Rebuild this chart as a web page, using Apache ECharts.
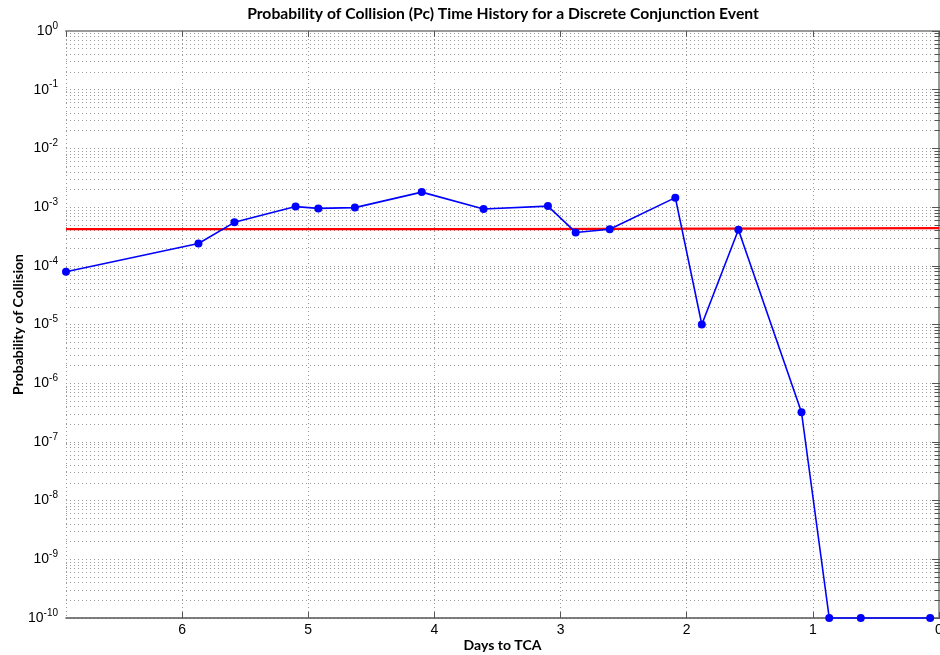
<!DOCTYPE html>
<html>
<head>
<meta charset="utf-8">
<script src="https://cdn.jsdelivr.net/npm/echarts@6/dist/echarts.min.js"></script>
<style>html,body{margin:0;padding:0;background:#fff;}#c{width:940px;height:655px;}</style>
</head>
<body>
<div id="c"></div>
<script>
// Days to TCA and probability of collision (blue series)
var daysToTCA = [6.92, 5.87, 5.585, 5.10, 4.92, 4.63, 4.10, 3.61, 3.10, 2.88, 2.61, 2.09, 1.88, 1.59, 1.09, 0.87, 0.62, 0.07];
var pcValues  = [7.9e-5, 2.4e-4, 5.5e-4, 1.02e-3, 9.5e-4, 9.8e-4, 1.8e-3, 9.3e-4, 1.04e-3, 3.7e-4, 4.2e-4, 1.45e-3, 1.0e-5, 4.1e-4, 3.2e-7, 1e-10, 1e-10, 1e-10];
// Red threshold line
var thresholdDays = [6.92, 3.43, 3.43, 0];
var thresholdPc   = [4.23e-4, 4.23e-4, 4.4e-4, 4.4e-4];
// Axis ticks
var xTicks = [0, 1, 2, 3, 4, 5, 6];
var yExponents = [-10, -9, -8, -7, -6, -5, -4, -3, -2, -1, 0];

var titleText = 'Probability of Collision (Pc) Time History for a Discrete Conjunction Event';
var xName = 'Days to TCA';
var yName = 'Probability of Collision';

function pairs(xs, ys) { return xs.map(function (x, i) { return [x, ys[i]]; }); }

var chart = echarts.init(document.getElementById('c'), null, {renderer: 'canvas'});
var gridLine = {show: true, lineStyle: {color: '#9a9a9a', width: 1, type: [1, 3]}};
var option = {
  backgroundColor: '#fff',
  animation: false,
  title: {
    text: titleText, left: 498, textAlign: 'center', top: 1,
    textStyle: {fontFamily: 'Lato', fontWeight: 'bold', fontSize: 15.7, color: '#000'}
  },
  grid: {left: 66, right: 1, top: 31, bottom: 37, containLabel: false, outerBoundsMode: 'none'},
  xAxis: [{
    type: 'value', inverse: true, min: 0, max: 6.92, interval: 1,
    name: xName, nameLocation: 'middle', nameGap: 20, nameMoveOverlap: false,
    nameTextStyle: {fontFamily: 'Lato', fontWeight: 'bold', fontSize: 14, color: '#000'},
    axisLine: {show: true, lineStyle: {color: '#555', width: 1.5}},
    axisTick: {show: true, inside: true, length: 6, lineStyle: {color: '#555'}},
    axisLabel: {show: true, showMaxLabel: false, margin: 5, fontFamily: 'Liberation Sans', fontSize: 14, color: '#000',
      formatter: function (v) { return xTicks.indexOf(v) >= 0 ? String(v) : ''; }},
    splitLine: gridLine
  }, {
    type: 'value', inverse: true, min: 0, max: 6.92, interval: 1, position: 'top',
    axisLine: {show: true, onZero: false, lineStyle: {color: '#9a9a9a', width: 2}},
    axisTick: {show: true, inside: true, length: 6, lineStyle: {color: '#555'}},
    axisLabel: {show: false}, splitLine: {show: false}
  }],
  yAxis: [{
    type: 'log', logBase: 10, min: 1e-10, max: 1, interval: 1, splitNumber: 10,
    name: yName, nameLocation: 'middle', nameGap: 41, nameRotate: 90, nameMoveOverlap: false,
    nameTextStyle: {fontFamily: 'Lato', fontWeight: 'bold', fontSize: 14, color: '#000'},
    axisLine: {show: true, lineStyle: {color: '#9a9a9a', width: 2}},
    axisTick: {show: true, inside: true, length: 7, lineStyle: {color: '#555'}},
    minorTick: {show: true, splitNumber: 9, length: 4, lineStyle: {color: '#555'}},
    axisLabel: {show: true, margin: 8, fontFamily: 'Liberation Sans', fontSize: 14, color: '#000',
      formatter: function (v) {
        var e = Math.round(Math.log10(v));
        return yExponents.indexOf(e) >= 0 ? '10{s|' + e + '}' : '';
      },
      rich: {s: {fontFamily: 'Liberation Sans', fontSize: 10, color: '#000', padding: [0, 0, 10, 0]}}
    },
    splitLine: gridLine,
    minorSplitLine: gridLine
  }, {
    type: 'log', logBase: 10, min: 1e-10, max: 1, interval: 1, splitNumber: 10, position: 'right',
    axisLine: {show: true, lineStyle: {color: '#9a9a9a', width: 2}},
    axisTick: {show: true, inside: true, length: 7, lineStyle: {color: '#555'}},
    minorTick: {show: true, splitNumber: 9, length: 4, lineStyle: {color: '#555'}},
    axisLabel: {show: false}, splitLine: {show: false}
  }],
  series: [{
    type: 'line', name: 'threshold', data: pairs(thresholdDays, thresholdPc),
    showSymbol: false, symbol: 'none', lineStyle: {color: '#ff0000', width: 2.2}, z: 3
  }, {
    type: 'line', name: 'Pc', data: pairs(daysToTCA, pcValues),
    symbol: 'circle', symbolSize: 8, clip: false,
    itemStyle: {color: '#0000ff'}, lineStyle: {color: '#0000ff', width: 1.6}, z: 4
  }]
};
chart.setOption(option);
</script>
</body>
</html>
